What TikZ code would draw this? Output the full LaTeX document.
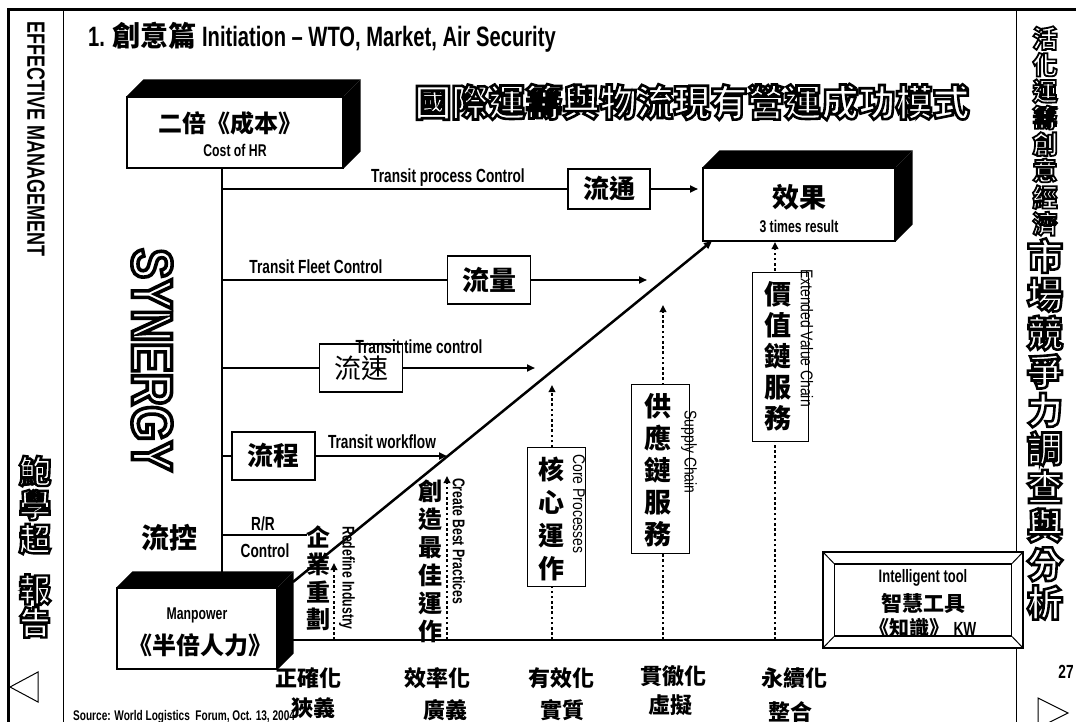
\documentclass[tikz,border=0pt]{standalone}
\usepackage{fontspec}
\usetikzlibrary{arrows.meta,calc}
\setmainfont{Liberation Sans}
\newfontfamily\cnd[FakeStretch=0.72]{Liberation Sans}
\newfontfamily\cndn[FakeStretch=0.82]{Liberation Sans}
\newfontfamily\synf[FakeStretch=0.8]{Liberation Sans}
\newfontfamily\cjk{Noto Sans CJK TC}
\newcommand\fsz[1]{\fontsize{#1}{#1}\selectfont}
% outlined text: white fill, black stroke
\newcommand\olt[2][1.6]{\special{pdf:literal direct 0 G 2 Tr #1 w}#2\special{pdf:literal direct 0 Tr}}
\newcommand\olnode[4]{%
  \node[#2,text=white] (#4) at (#1) {#3};}
\newcommand\threed[2]{%
  \fill (#1.north west) -- ++(#2,-#2) -- ([shift={(#2,-#2)}]#1.north east) -- (#1.north east) -- cycle;
  \fill (#1.north east) -- ++(#2,-#2) -- ([shift={(#2,-#2)}]#1.south east) -- (#1.south east) -- cycle;}
\tikzset{
  mainline/.style={line width=2.5pt},
  tip/.style={-{Triangle[length=8pt,width=7pt]}},
  dotarrow/.style={line width=2.5pt, dash pattern=on 2.6pt off 2.6pt, -{Triangle[length=7pt,width=6.5pt]}},
  fbox/.style={draw, line width=1.2pt, fill=white, inner sep=0pt},
  thinbox/.style={draw, line width=1pt, fill=white, inner sep=0pt},
  lab/.style={font=\cnd\bfseries\fsz{19}, inner sep=0pt},
  rlab/.style={font=\cndn\fsz{17}, inner sep=0pt, rotate=-90},
  blab/.style={font=\cnd\bfseries\fsz{17}, inner sep=0pt, rotate=-90},
  cj/.style={font=\cjk\bfseries\fontsize{#1}{#1}\selectfont, inner sep=0pt},
  stackcj/.style 2 args={font=\cjk\bfseries\fontsize{#1}{#2}\selectfont, align=center, inner sep=0pt},
}
\begin{document}
\begin{tikzpicture}[x=1pt,y=-1pt]
\useasboundingbox (0,0) rectangle (1076,722);
\fill[white] (0,0) rectangle (1076,722);
% frame
\draw[line width=3pt] (1076,10) -- (8,10) -- (8,722);
\draw[line width=1pt] (63,10) -- (63,722);
\draw[line width=1pt] (1016,10) -- (1016,722);
% left column
\node[font=\cnd\bfseries\fsz{25}, rotate=-90, inner sep=0pt] (effm) at (36,139) {EFFECTIVE MANAGEMENT};
\olnode{35,505}{stackcj={32}{34}}{\olt[2.4]{鮑}\\\olt[2.4]{學}\\\olt[2.4]{超}}{bao}
\olnode{35,606}{stackcj={32}{33}}{\olt[2.4]{報}\\\olt[2.4]{告}}{rep}
\draw[line width=1pt] (38,672) -- (10,687) -- (38,702) -- cycle;
% right column
\olnode{1045,131}{stackcj={25}{26.5}}{\olt[1.8]{活}\\\olt[1.8]{化}\\\olt[1.8]{運}\\\olt[1.8]{籌}\\\olt[1.8]{創}\\\olt[1.8]{意}\\\olt[1.8]{經}\\\olt[1.8]{濟}}{rc1}
\olnode{1045,429}{stackcj={36}{38.5}}{\olt[2.6]{市}\\\olt[2.6]{場}\\\olt[2.6]{競}\\\olt[2.6]{爭}\\\olt[2.6]{力}\\\olt[2.6]{調}\\\olt[2.6]{查}\\\olt[2.6]{與}\\\olt[2.6]{分}\\\olt[2.6]{析}}{rc2}
\node[font=\cnd\bfseries\fsz{19}, inner sep=0pt] (pg) at (1066,672) {27};
\draw[line width=1pt] (1038,698) -- (1068,713) -- (1038,728) -- cycle;
% titles
\node[anchor=base west, inner sep=0pt, font=\cnd\bfseries\fsz{28}] (title) at (88,47) {1. {\cjk\bfseries 創意篇} Initiation – WTO, Market, Air Security};
\olnode{692,102}{font=\cjk\bfseries\fsz{37}, inner sep=0pt}{\olt[2.6]{國際運籌與物流現有營運成功模式}}{bigtitle}
\olnode{152,360}{font=\synf\bfseries\fsz{57}, rotate=-90, inner sep=0pt}{\olt[3.6]{SYNERGY}}{syn}
% 3D boxes
\node[fbox, minimum width=216pt, minimum height=71pt] (cost) at (235,132.5) {};
\threed{cost}{17}
\node[cj=24] (costcn) at (230,123) {二倍《成本》};
\node[font=\cnd\bfseries\fsz{17}, inner sep=0pt] (costen) at (235,150) {Cost of HR};
\node[fbox, minimum width=160pt, minimum height=81pt] (man) at (197,628.5) {};
\threed{man}{16}
\node[font=\cnd\bfseries\fsz{17}, inner sep=0pt] (manen) at (197,615) {Manpower};
\node[cj=24] (mancn) at (200,645) {《半倍人力》};
\node[fbox, minimum width=192pt, minimum height=73pt] (res) at (799,204.5) {};
\threed{res}{17}
\node[cj=27] (rescn) at (799,197) {效果};
\node[font=\cnd\bfseries\fsz{17}, inner sep=0pt] (resen) at (799,226) {3 times result};
% trunk
\coordinate (trunkT) at (222,168);
\coordinate (trunkB) at (222,572);
\draw[mainline] (trunkT) -- (trunkB);
% branch boxes
\node[fbox, minimum width=82pt, minimum height=40pt, cj=26] (ltong) at (609,189) {流通};
\node[fbox, minimum width=83pt, minimum height=48pt, cj=27] (lliang) at (489,280) {流量};
\node[fbox, minimum width=83pt, minimum height=48pt, font=\cjk\fsz{27}] (lsu) at (361,368) {流速};
\node[fbox, minimum width=83pt, minimum height=48pt, cj=26] (lcheng) at (273.5,456) {流程};
\coordinate (a1) at (698,189);
\coordinate (a2) at (647,280);
\coordinate (a3) at (535,368);
\coordinate (a4) at (447,456);
\coordinate (rr) at (307,535);
\draw[mainline] (trunkT |- ltong) -- (ltong.west);
\draw[mainline,tip] (ltong.east) -- (a1);
\draw[mainline] (trunkT |- lliang) -- (lliang.west);
\draw[mainline,tip] (lliang.east) -- (a2);
\draw[mainline] (trunkT |- lsu) -- (lsu.west);
\draw[mainline,tip] (lsu.east) -- (a3);
\draw[mainline] (trunkT |- lcheng) -- (lcheng.west);
\draw[mainline,tip] (lcheng.east) -- (a4);
\draw[mainline] (trunkT |- rr) -- (rr);
% branch labels
\node[lab, anchor=base] (t1) at (448,183) {Transit process Control};
\node[lab, anchor=base] (t2) at (316,273) {Transit Fleet Control};
\node[lab, anchor=base] (t3) at (419,353) {Transit time control};
\node[lab, anchor=base] (t4) at (382,448) {Transit workflow};
\node[lab, anchor=base] (t5) at (263,530) {R/R};
\node[lab, anchor=base] (t6) at (265,557) {Control};
\node[cj=28] (liukong) at (169,538) {流控};
% intelligent tool box
\node[draw, line width=1.2pt, fill=white, minimum width=200pt, minimum height=96pt] (itool) at (923,600) {};
\node[draw, line width=1.2pt, minimum width=177pt, minimum height=72pt] (itooli) at (923,600) {};
\draw[line width=1pt] (itool.north west) -- (itooli.north west);
\draw[line width=1pt] (itool.north east) -- (itooli.north east);
\draw[line width=1pt] (itool.south west) -- (itooli.south west);
\draw[line width=1pt] (itool.south east) -- (itooli.south east);
\node[lab, font=\cnd\bfseries\fsz{18}, anchor=base] (it1) at (923,582) {Intelligent tool};
\node[cj=21] (it2) at (923,603) {智慧工具};
\node[inner sep=0pt] (it3) at (923,628) {{\cjk\bfseries\fsz{20}《知識》}{\cnd\bfseries\fsz{19} KW}};
% diagonal and bottom line
\coordinate (dstart) at (293,582);
\coordinate (dend) at (712,241);
\draw[mainline,tip] (dstart) -- (dend);
\coordinate (bl) at (293,640);
\draw[mainline] (bl) -- (itool.west |- bl);
% dotted arrows
\coordinate (b1) at (334,640); \coordinate (e1) at (334,563);
\coordinate (b2) at (447,640); \coordinate (e2) at (447,476);
\coordinate (b3) at (552,640); \coordinate (e3) at (552,385);
\coordinate (b4) at (663,640); \coordinate (e4) at (663,305);
\coordinate (b5) at (775,640); \coordinate (e5) at (775,242);
\draw[dotarrow] (b1) -- (e1);
\draw[dotarrow] (b2) -- (e2);
\draw[dotarrow] (b3) -- (e3);
\draw[dotarrow] (b4) -- (e4);
\draw[dotarrow] (b5) -- (e5);
% vertical boxes
\node[thinbox, minimum width=58pt, minimum height=139pt] (hexin) at (556,516.5) {};
\node[stackcj={26}{33}] (hexint) at (551,519) {核\\心\\運\\作};
\node[thinbox, minimum width=58pt, minimum height=169pt] (gong) at (660,468.5) {};
\node[stackcj={27}{32}] (gongt) at (658,470) {供\\應\\鏈\\服\\務};
\node[thinbox, minimum width=56pt, minimum height=169pt] (jia) at (780,356.5) {};
\node[stackcj={27}{31}] (jiat) at (778,356) {價\\值\\鏈\\服\\務};
\node[stackcj={24}{27.5}] (qiye) at (318,578) {企\\業\\重\\劃};
\node[stackcj={24}{28}] (chuang) at (430,561) {創\\造\\最\\佳\\運\\作};
% rotated labels
\node[blab] (redef) at (347,578) {Redefine Industry};
\node[blab] (cbp) at (459,541) {Create Best Practices};
\node[rlab] (core) at (579,504) {Core Processes};
\node[rlab] (sup) at (689,452) {Supply Chain};
\node[rlab] (evc) at (807,338) {Extended Value Chain};
% bottom labels
\node[cj=22] (l1a) at (308,678) {正確化};
\node[cj=22] (l1b) at (313,708) {狹義};
\node[cj=22] (l2a) at (437,678) {效率化};
\node[cj=22] (l2b) at (445,710) {廣義};
\node[cj=22] (l3a) at (561,678) {有效化};
\node[cj=22] (l3b) at (562,710) {實質};
\node[cj=22] (l4a) at (673,676) {貫徹化};
\node[cj=22] (l4b) at (670,705) {虛擬};
\node[cj=22] (l5a) at (794,678) {永續化};
\node[cj=22] (l5b) at (790,712) {整合};
\node[anchor=base west, inner sep=0pt, font=\cnd\bfseries\fsz{14}] (src) at (73,720) {Source: World Logistics\ \ Forum, Oct. 13, 2004};
\end{tikzpicture}
\end{document}
